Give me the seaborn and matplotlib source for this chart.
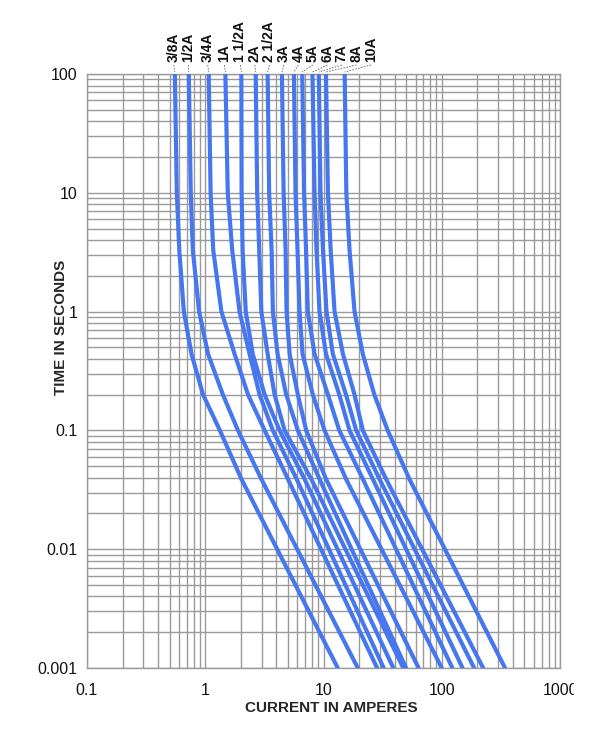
import numpy as np
import pandas as pd
import matplotlib
matplotlib.use("Agg")
import matplotlib.pyplot as plt
import matplotlib.ticker as mticker
from matplotlib.patches import Rectangle
import seaborn as sns

times = [100, 10, 3.3, 1, 0.44, 0.2, 0.1, 0.039, 0.001]

ratings = ["3/8A", "1/2A", "3/4A", "1A", "1 1/2A", "2A", "2 1/2A",
           "3A", "4A", "5A", "6A", "7A", "8A", "10A"]

# current in amperes for each rating, one value per time level
amps_3_8 = [0.553, 0.575, 0.603, 0.659, 0.765, 0.958, 1.33, 2.02, 13.2]
amps_1_2 = [0.726, 0.754, 0.785, 0.887, 1.056, 1.41, 1.89, 2.98, 19.5]
amps_3_4 = [1.07, 1.11, 1.168, 1.37, 1.77, 2.30, 3.18, 5.00, 28.4]
amps_1 = [1.48, 1.55, 1.69, 1.95, 2.37, 2.88, 3.73, 5.92, 32.3]
amps_1_5 = [2.02, 2.03, 2.07, 2.20, 2.52, 3.18, 4.25, 6.91, 39.0]
amps_2 = [2.67, 2.75, 2.86, 2.98, 3.37, 3.86, 4.69, 7.87, 47.3]
amps_2_5 = [3.37, 3.47, 3.64, 3.73, 4.09, 4.84, 6.07, 9.25, 49.9]
amps_3 = [4.45, 4.60, 4.78, 4.87, 5.17, 6.07, 7.14, 10.5, 63.7]
amps_4 = [5.62, 5.80, 6.03, 6.27, 6.65, 8.12, 10.2, 15.5, 100.0]
amps_5 = [6.61, 6.85, 7.12, 7.37, 8.40, 10.9, 13.6, 21.5, 123.0]
amps_6 = [8.07, 8.40, 8.73, 9.25, 10.5, 13.6, 16.6, 26.1, 150.0]
amps_7 = [9.13, 9.43, 9.90, 10.6, 12.0, 15.5, 18.9, 29.7, 188.0]
amps_8 = [10.5, 10.9, 11.5, 12.4, 14.6, 18.3, 21.5, 33.8, 224.0]
amps_10 = [15.1, 15.6, 16.6, 18.3, 21.5, 26.9, 34.9, 53.2, 343.0]

all_amps = [amps_3_8, amps_1_2, amps_3_4, amps_1, amps_1_5, amps_2, amps_2_5,
            amps_3, amps_4, amps_5, amps_6, amps_7, amps_8, amps_10]

rows = []
for r, amps in zip(ratings, all_amps):
    for t, a in zip(times, amps):
        rows.append({"rating": r, "current": a, "time": t})
df = pd.DataFrame(rows)

blue = "#4677ef"
grid_c = "#9a9a9a"

sns.set_style("white")
plt.rcParams['font.family'] = ['Liberation Sans', 'DejaVu Sans']

W, H = 604, 737
fig = plt.figure(figsize=(W / 100, H / 100), dpi=100)
ax = fig.add_axes([87 / W, 1 - 668 / H, 473 / W, 594 / H])

sns.lineplot(data=df, x="current", y="time", hue="rating", hue_order=ratings,
             palette=[blue] * len(ratings), sort=False, estimator=None,
             legend=False, lw=3, ax=ax, zorder=3)

ax.set_xscale("log")
ax.set_yscale("log")
ax.set_xlim(0.1, 1000)
ax.set_ylim(0.001, 100)

for axis in (ax.xaxis, ax.yaxis):
    axis.set_major_locator(mticker.LogLocator(base=10))
    axis.set_minor_locator(mticker.LogLocator(base=10, subs=range(2, 10)))
    axis.set_major_formatter(mticker.FuncFormatter(lambda v, p: f"{v:g}"))
    axis.set_minor_formatter(mticker.NullFormatter())

ax.grid(which="both", color=grid_c, lw=1)
ax.set_axisbelow(True)
for s in ax.spines.values():
    s.set_color(grid_c)
    s.set_linewidth(1)

ax.tick_params(which="major", length=6, width=1, color=grid_c, labelsize=11.5,
               labelcolor="#111111")
ax.tick_params(axis="y", which="major", pad=1)
ax.tick_params(axis="x", which="major", pad=5)
ax.tick_params(which="minor", length=0)

ax.set_xlabel("CURRENT IN AMPERES", fontsize=11, fontweight="bold")
ax.set_ylabel("TIME IN SECONDS", fontsize=11, fontweight="bold")
ax.xaxis.set_label_coords(0.516, -0.056)
ax.yaxis.set_label_coords(-0.040, 0.574)

# rating labels above the curves, pushed apart where they crowd
ax_w = 473.0
gap = 14.5 / ax_w
prev = -1
for r, amps in zip(ratings, all_amps):
    cx = (np.log10(amps[0]) + 1) / 4
    lx = max(cx - 1 / ax_w, prev + gap)
    prev = lx
    ax.text(lx, 1 + 12 / 594, r, rotation=90, ha="center", va="bottom",
            fontsize=10, fontweight="bold", transform=ax.transAxes,
            color="#111111")
    ax.plot([lx, cx], [1 + 9 / 594, 1 + 2 / 594], transform=ax.transAxes,
            color="#666666", lw=0.6, ls=(0, (2, 1.5)), clip_on=False)

# the source image cuts the "1000" tick label near its right edge
fig.add_artist(Rectangle((574 / W, 0.0), (W - 574) / W, 1 - 672 / H,
                         transform=fig.transFigure, color="white", zorder=10))

fig.savefig("out.png", dpi=100)
